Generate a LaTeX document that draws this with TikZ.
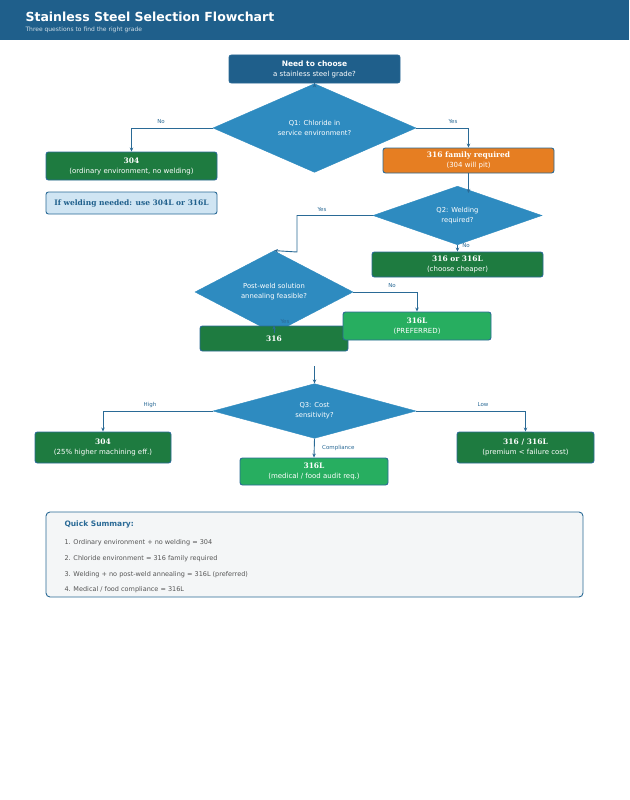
\documentclass[tikz,border=0pt]{standalone}
\usepackage{fontspec}
\setmainfont{DejaVu Sans}
\newfontfamily\bserif{DejaVu Serif}
\usetikzlibrary{shapes.geometric,arrows.meta}
\definecolor{hdr}{HTML}{1F5F8B}
\definecolor{dkblue}{HTML}{1F5F8B}
\definecolor{dia}{HTML}{2E8BC0}
\definecolor{dkgreen}{HTML}{1E7B40}
\definecolor{ltgreen}{HTML}{27AE60}
\definecolor{orng}{HTML}{E67E22}
\definecolor{note}{HTML}{D0E5F3}
\definecolor{edge}{HTML}{2A6A96}
\definecolor{sumbg}{HTML}{F4F6F7}
\definecolor{gtxt}{HTML}{555555}
\begin{document}
\begin{tikzpicture}[x=1pt,y=-1pt,
  box/.style={draw=edge,line width=0.9pt,rounded corners=2.5pt,text=white,align=center,inner sep=0pt,font=\fontsize{7}{10}\selectfont},
  dec/.style={diamond,fill=dia,draw=dia,text=white,align=center,inner sep=0pt,font=\fontsize{6.8}{10}\selectfont},
  arr/.style={draw=edge,line width=0.9pt,-{Stealth[length=4pt,width=3.5pt]}},
  lab/.style={text=edge,font=\fontsize{5.5}{6}\selectfont,inner sep=1pt}]
\useasboundingbox (0,0) rectangle (629,800);
\fill[white] (0,0) rectangle (629,800);
\fill[hdr] (0,0) rectangle (629,40);
\node[anchor=west,text=white,font=\bfseries\fontsize{12.5}{14}\selectfont] (title) at (22,17) {Stainless Steel Selection Flowchart};
\node[anchor=west,text=white!80!hdr,font=\fontsize{6}{7}\selectfont] (sub) at (22,30) {Three questions to find the right grade};
% start
\node[box,fill=dkblue,minimum width=171pt,minimum height=28pt] (start) at (314.5,69) {{\bfseries\fontsize{7.5}{10}\selectfont Need to choose}\\a stainless steel grade?};
\node[dec,minimum width=203pt,minimum height=48pt] (q1) at (314.5,128) {Q1: Chloride in\\service environment?};
\node[box,fill=dkgreen,minimum width=171pt,minimum height=28pt] (b304) at (131.5,166) {{\bserif\bfseries\fontsize{7.5}{10}\selectfont 304}\\(ordinary environment, no welding)};
\node[box,fill=note,text=dkblue,minimum width=171pt,minimum height=22pt,font=\bserif\bfseries\fontsize{7.5}{10}\selectfont] (note) at (131.5,203) {If welding needed: use 304L or 316L};
\node[box,fill=orng,minimum width=171pt,minimum height=25pt] (fam) at (468.5,160.5) {{\bserif\bfseries\fontsize{7.5}{10}\selectfont 316 family required}\\(304 will pit)};
\node[dec,minimum width=169pt,minimum height=45pt] (q2) at (457.5,215.5) {Q2: Welding\\required?};
\node[box,fill=dkgreen,minimum width=171pt,minimum height=25pt] (b316or) at (457.5,264.5) {{\bserif\bfseries\fontsize{7.5}{10}\selectfont 316 or 316L}\\(choose cheaper)};
\node[dec,minimum width=158pt,minimum height=44pt] (q2b) at (274,292) {Post-weld solution\\annealing feasible?};
\node[box,fill=dkgreen,minimum width=148pt,minimum height=25pt] (b316) at (274,338.5) {{\bserif\bfseries\fontsize{7.5}{10}\selectfont 316}};
\node[box,fill=ltgreen,minimum width=148pt,minimum height=28pt] (b316lp) at (417,326) {{\bserif\bfseries\fontsize{7.5}{10}\selectfont 316L}\\(PREFERRED)};
\coordinate (c3) at (314.5,366);
\node[dec,minimum width=203pt,minimum height=46pt] (q3) at (314.5,411) {Q3: Cost\\sensitivity?};
\node[box,fill=dkgreen,minimum width=136pt,minimum height=31pt] (b304h) at (103,447.5) {{\bserif\bfseries\fontsize{7.5}{10}\selectfont 304}\\(25\% higher machining eff.)};
\node[box,fill=dkgreen,minimum width=137pt,minimum height=31pt] (b316low) at (525.5,447.5) {{\bserif\bfseries\fontsize{7.5}{10}\selectfont 316 / 316L}\\(premium < failure cost)};
\node[box,fill=ltgreen,minimum width=148pt,minimum height=27pt] (b316lc) at (314,471.5) {{\bserif\bfseries\fontsize{7.5}{10}\selectfont 316L}\\(medical / food audit req.)};
% arrows
\draw[arr] (start) -- (q1);
\draw[arr] (q1.west) -- (131.5,128) -- (b304.north);
\node[lab] (lno1) at (161,122) {No};
\draw[arr] (q1.east) -- (468.5,128) -- (fam.north);
\node[lab] (lyes1) at (453,122) {Yes};
\draw[arr] (fam.south) -- (468.5,193);
\draw[arr] (q2.west) -- (297,215.5) -- (297,252) -- (q2b.north);
\node[lab] (lyes2) at (322,210) {Yes};
\draw[arr] (q2.south) -- (b316or.north);
\node[lab] (lno2) at (466,246) {No};
\draw[arr] (q2b.east) -- (417,292) -- (b316lp.north);
\node[lab] (lno3) at (392,286) {No};
\draw[arr] (q2b.south) -- (b316.north);
\node[lab] (lyes3) at (285,322) {Yes};
\draw[arr] (c3) -- (q3.north);
\draw[arr] (q3.west) -- (103,411) -- (b304h.north);
\node[lab] (lhigh) at (150,405) {High};
\draw[arr] (q3.east) -- (525.5,411) -- (b316low.north);
\node[lab] (llow) at (483,405) {Low};
\draw[arr] (q3.south) -- (b316lc.north);
\node[lab,anchor=west] (lcomp) at (321,448) {Compliance};
% summary
\node[draw=edge,line width=0.9pt,fill=sumbg,rounded corners=4pt,minimum width=537pt,minimum height=85pt,inner sep=0pt] (sum) at (314.5,554.5) {};
\node[anchor=west,text=edge,font=\bfseries\fontsize{7.5}{9}\selectfont] (sumt) at (61,524) {Quick Summary:};
\begin{scope}[every node/.style={anchor=west,text=gtxt,font=\fontsize{6.5}{8}\selectfont}]
\node (s1) at (61,543) {1. Ordinary environment + no welding = 304};
\node (s2) at (61,559) {2. Chloride environment = 316 family required};
\node (s3) at (61,574.5) {3. Welding + no post-weld annealing = 316L (preferred)};
\node (s4) at (61,590) {4. Medical / food compliance = 316L};
\end{scope}
\end{tikzpicture}
\end{document}
